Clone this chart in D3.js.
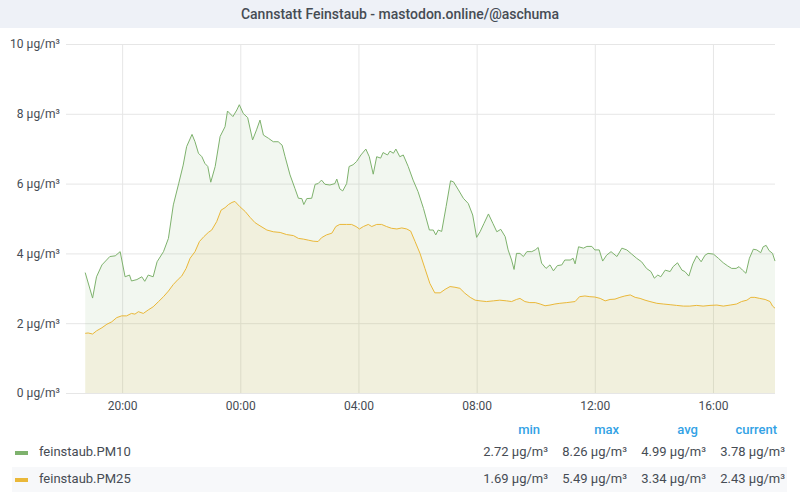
<!DOCTYPE html>
<html>
<head>
<meta charset="utf-8">
<script src="https://cdn.jsdelivr.net/npm/d3@7"></script>
<style>
  body { margin: 0; background: #fff; font-family: Roboto, "Noto Sans", sans-serif; }
  svg { display: block; }
</style>
</head>
<body>
<div id="chart"></div>
<script>
var title = "Cannstatt Feinstaub - mastodon.online/@aschuma";

// time range of the panel (last 24h)
var rangeStart = "18:06";
var rangeEnd = "18:06";

var pm10Times = ["18:45","19:00","19:08","19:19","19:35","19:46","19:56","20:06","20:15","20:19","20:30","20:40","20:46","20:53","21:03","21:11","21:24","21:34","21:44","21:55","22:04","22:11","22:22","22:28","22:35","22:42","22:48","22:54","23:00","23:09","23:19","23:29","23:34","23:45","23:53","23:58","00:06","00:15","00:25","00:33","00:40","00:47","00:57","01:07","01:17","01:25","01:31","01:41","01:51","01:58","02:05","02:09","02:15","02:25","02:32","02:38","02:45","02:52","03:02","03:12","03:16","03:22","03:28","03:36","03:41","03:49","03:56","04:05","04:15","04:22","04:30","04:37","04:45","04:50","04:59","05:04","05:11","05:16","05:24","05:31","05:41","05:51","06:01","06:12","06:24","06:32","06:37","06:42","06:49","06:58","07:07","07:13","07:23","07:33","07:43","07:52","08:00","08:07","08:15","08:24","08:33","08:41","08:49","08:58","09:04","09:11","09:16","09:21","09:28","09:35","09:42","09:52","09:59","10:05","10:12","10:21","10:29","10:36","10:44","10:53","10:59","11:10","11:16","11:20","11:27","11:37","11:44","11:54","12:00","12:09","12:16","12:24","12:33","12:45","12:55","13:05","13:15","13:25","13:35","13:45","13:54","14:01","14:08","14:14","14:23","14:33","14:39","14:48","14:57","15:03","15:11","15:19","15:27","15:36","15:44","15:50","16:01","16:11","16:21","16:30","16:38","16:47","16:53","17:00","17:07","17:14","17:22","17:29","17:37","17:42","17:48","17:54","18:01","18:06"];
var pm10Values = [3.45,2.72,3.33,3.67,3.91,3.93,4.05,3.33,3.38,3.21,3.25,3.33,3.2,3.38,3.33,3.76,4.05,4.43,5.39,6.01,6.53,7.06,7.41,7.2,6.87,6.77,6.58,6.49,6.04,6.49,7.35,7.63,8.08,7.92,8.11,8.26,8.01,7.89,7.25,7.54,7.82,7.39,7.3,7.2,7.2,7.1,6.77,6.25,5.86,5.58,5.57,5.4,5.57,5.58,5.98,6.0,6.1,5.98,5.96,6.0,6.13,5.85,5.79,6.0,6.49,6.54,6.63,6.82,6.99,6.77,6.27,6.77,6.73,6.89,6.82,6.93,6.87,6.99,6.77,6.82,6.49,6.1,5.77,5.29,4.67,4.67,4.53,4.67,4.63,5.34,6.08,6.05,5.82,5.58,5.43,5.1,4.46,4.62,4.86,5.13,4.86,4.62,4.69,4.48,4.1,3.81,3.54,4.0,4.0,3.91,4.05,4.05,4.1,4.17,3.72,3.57,3.67,3.5,3.65,3.67,3.81,3.81,3.86,3.7,4.19,4.15,4.2,4.2,4.1,4.1,3.78,3.95,4.05,3.91,4.15,4.1,3.98,3.86,3.76,3.57,3.48,3.29,3.38,3.33,3.52,3.48,3.62,3.73,3.52,3.48,3.35,3.7,3.93,3.76,3.95,4.0,3.98,3.86,3.73,3.64,3.57,3.57,3.62,3.52,3.43,3.86,4.12,4.1,4.02,4.19,4.23,4.08,4.0,3.78];

var pm25Times = ["18:45","18:51","19:00","19:08","19:19","19:29","19:39","19:49","19:59","20:09","20:19","20:26","20:33","20:43","20:53","21:03","21:14","21:24","21:34","21:44","21:54","22:01","22:10","22:18","22:28","22:37","22:46","22:55","23:02","23:12","23:21","23:29","23:36","23:43","23:49","23:59","00:10","00:20","00:30","00:40","00:54","01:07","01:21","01:34","01:48","01:58","02:08","02:18","02:28","02:38","02:45","02:55","03:06","03:14","03:22","03:36","03:46","03:55","04:02","04:10","04:20","04:27","04:37","04:47","04:57","05:07","05:18","05:28","05:38","05:46","05:55","06:05","06:15","06:25","06:35","06:46","06:56","07:06","07:16","07:26","07:36","07:47","07:57","08:07","08:20","08:34","08:47","09:01","09:11","09:21","09:28","09:38","09:48","09:59","10:09","10:19","10:29","10:39","10:49","11:03","11:20","11:29","11:40","11:50","12:00","12:11","12:21","12:31","12:41","12:51","13:01","13:12","13:22","13:32","13:42","13:52","14:06","14:19","14:33","14:46","15:00","15:13","15:27","15:40","15:54","16:08","16:21","16:35","16:48","16:58","17:09","17:17","17:25","17:35","17:46","17:56","18:01","18:06"];
var pm25Values = [1.71,1.72,1.69,1.78,1.87,1.97,2.04,2.16,2.21,2.21,2.28,2.26,2.33,2.28,2.38,2.47,2.62,2.76,2.92,3.11,3.26,3.35,3.57,3.86,4.05,4.34,4.48,4.6,4.67,4.91,5.24,5.31,5.4,5.46,5.49,5.34,5.2,5.03,4.88,4.79,4.67,4.62,4.6,4.54,4.51,4.43,4.41,4.38,4.35,4.34,4.45,4.53,4.58,4.77,4.83,4.83,4.83,4.77,4.7,4.77,4.83,4.77,4.83,4.83,4.77,4.72,4.7,4.73,4.7,4.64,4.34,4.0,3.57,3.14,2.87,2.87,2.97,3.05,3.03,3.0,2.86,2.74,2.66,2.64,2.62,2.64,2.66,2.64,2.62,2.68,2.71,2.62,2.59,2.59,2.55,2.5,2.52,2.55,2.57,2.59,2.62,2.76,2.78,2.76,2.75,2.71,2.64,2.68,2.69,2.74,2.78,2.81,2.74,2.71,2.66,2.62,2.57,2.55,2.53,2.51,2.49,2.49,2.51,2.49,2.51,2.52,2.49,2.52,2.55,2.62,2.66,2.74,2.74,2.71,2.68,2.62,2.49,2.43];

var yTicks = [0, 2, 4, 6, 8, 10];
var xTickLabels = ["20:00", "00:00", "04:00", "08:00", "12:00", "16:00"];

var seriesNames = ["feinstaub.PM10", "feinstaub.PM25"];
var seriesColors = ["#7eb26d", "#eab839"];
var statHeaders = ["min", "max", "avg", "current"];
var pm10Stats = ["2.72", "8.26", "4.99", "3.78"];
var pm25Stats = ["1.69", "5.49", "3.34", "2.43"];

var unit = " \u00b5g/m\u00b3";

// "HH:MM" -> Date, day 0 is the evening the range starts
var toDate = function(hm, day) {
	var p = hm.split(":");
	return new Date(2019, 0, 1 + day, +p[0], +p[1]);
};
// a list of "HH:MM" in time order, rolling over midnight
var parseSeq = function(times) {
	var day = 0, prev = -1;
	return times.map(function(t) {
		var p = t.split(":");
		var m = +p[0] * 60 + +p[1];
		if (m < prev) day++;
		prev = m;
		return toDate(t, day);
	});
};

var width = 800, height = 500;
var margin = {left: 66, right: 25, top: 44, bottom: 107};

var svg = d3.select("#chart").append("svg")
	.attr("width", width)
	.attr("height", height);

// title bar
svg.append("rect")
	.attr("x", 0).attr("y", 0)
	.attr("width", width).attr("height", 28)
	.attr("fill", "#eef1f7");
svg.append("text")
	.attr("x", width / 2).attr("y", 19)
	.attr("text-anchor", "middle")
	.attr("font-size", "14px")
	.attr("font-weight", 500)
	.attr("fill", "#464c54")
	.text(title);

var x = d3.scaleTime()
	.domain([toDate(rangeStart, 0), toDate(rangeEnd, 1)])
	.range([margin.left, width - margin.right]);

var y = d3.scaleLinear()
	.domain([0, 10])
	.range([height - margin.bottom, margin.top]);

// axes double as grid
var xAxis = d3.axisBottom(x)
	.tickValues(parseSeq(xTickLabels))
	.tickFormat(d3.timeFormat("%H:%M"))
	.tickSize(-(y(0) - y(10)))
	.tickPadding(8);

var yAxis = d3.axisLeft(y)
	.tickValues(yTicks)
	.tickFormat(function(d) { return d + unit; })
	.tickSize(-(x.range()[1] - x.range()[0]))
	.tickPadding(6);

var gx = svg.append("g")
	.attr("transform", "translate(0," + y(0) + ")")
	.call(xAxis);
var gy = svg.append("g")
	.attr("transform", "translate(" + margin.left + ",0)")
	.call(yAxis);

[gx, gy].forEach(function(g) {
	g.select(".domain").remove();
	g.selectAll(".tick line").attr("stroke", "#e6e6e6").attr("stroke-width", 1);
	g.selectAll(".tick text")
		.attr("fill", "#464c54")
		.attr("font-size", "12px")
		.attr("font-family", "Roboto, sans-serif");
});

var series = [
	{dates: parseSeq(pm10Times), values: pm10Values},
	{dates: parseSeq(pm25Times), values: pm25Values}
];

var area = d3.area()
	.x(function(d) { return x(d.t); })
	.y0(y(0))
	.y1(function(d) { return y(d.v); });
var line = d3.line()
	.x(function(d) { return x(d.t); })
	.y(function(d) { return y(d.v); });

series.forEach(function(s, i) {
	var pts = s.dates.map(function(d, j) { return {t: d, v: s.values[j]}; });
	svg.append("path")
		.attr("d", area(pts))
		.attr("fill", seriesColors[i])
		.attr("fill-opacity", 0.1);
	svg.append("path")
		.attr("d", line(pts))
		.attr("fill", "none")
		.attr("stroke", seriesColors[i])
		.attr("stroke-width", 1);
});

// legend table
var colRight = [548, 627, 706, 785];
var headerY = 434, rowY = [456, 483];

svg.append("rect")
	.attr("x", 12).attr("y", 467)
	.attr("width", 775).attr("height", 25)
	.attr("fill", "#f7f8fa");

svg.selectAll(".hdr").data(statHeaders).enter().append("text")
	.attr("x", function(d, i) { return colRight[i] - 8; })
	.attr("y", headerY)
	.attr("text-anchor", "end")
	.attr("font-size", "13px")
	.attr("font-weight", 500)
	.attr("fill", "#33a2e5")
	.text(function(d) { return d; });

[pm10Stats, pm25Stats].forEach(function(stats, i) {
	svg.append("rect")
		.attr("x", 15).attr("y", rowY[i] - 5)
		.attr("width", 13).attr("height", 4)
		.attr("fill", seriesColors[i]);
	svg.append("text")
		.attr("x", 39).attr("y", rowY[i])
		.attr("font-size", "13px")
		.attr("fill", "#464c54")
		.text(seriesNames[i]);
	stats.forEach(function(v, j) {
		svg.append("text")
			.attr("x", colRight[j]).attr("y", rowY[i])
			.attr("text-anchor", "end")
			.attr("font-size", "13px")
			.attr("fill", "#464c54")
			.text(v + unit);
	});
});
</script>
</body>
</html>
